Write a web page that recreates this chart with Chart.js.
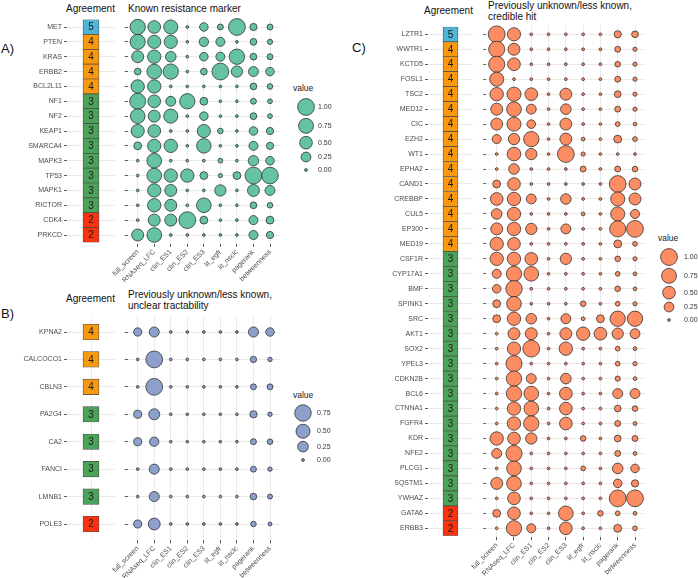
<!DOCTYPE html>
<html><head><meta charset="utf-8">
<script src="https://cdn.jsdelivr.net/npm/chart.js"></script>
<style>
html,body{margin:0;padding:0;background:#fff}
body{width:698px;height:578px;position:relative;overflow:hidden;font-family:"Liberation Sans",Arial,Helvetica,sans-serif}
canvas{position:absolute;left:0;top:0}
.t{position:absolute;white-space:nowrap;color:#111;line-height:1}
</style></head><body>
<div class="t" style="left:1px;top:41.5px;font-size:13px">A)</div>
<div class="t" style="left:66px;top:4px;font-size:10px">Agreement</div>
<div class="t" style="left:128px;top:4px;font-size:10px">Known resistance marker</div>
<div class="t" style="left:293px;top:83.5px;font-size:8.5px;color:#222">value</div>
<div class="t" style="left:1px;top:306.5px;font-size:13px">B)</div>
<div class="t" style="left:66px;top:294px;font-size:10px">Agreement</div>
<div class="t" style="left:128px;top:290px;font-size:10px">Previously unknown/less known,</div>
<div class="t" style="left:128px;top:301px;font-size:10px">unclear tractability</div>
<div class="t" style="left:293px;top:391px;font-size:8.5px;color:#222">value</div>
<div class="t" style="left:352px;top:40.5px;font-size:13px">C)</div>
<div class="t" style="left:424px;top:6px;font-size:10px">Agreement</div>
<div class="t" style="left:488px;top:0.5px;font-size:10px">Previously unknown/less known,</div>
<div class="t" style="left:488px;top:11.5px;font-size:10px">credible hit</div>
<div class="t" style="left:658px;top:234px;font-size:8.5px;color:#222">value</div>
<script>
// ---------------- DATA ----------------
const columns = ['full_screen','RNAseq_LFC','clin_ES1','clin_ES2','clin_ES3','lit_egfr','lit_nsclc','pagerank','betweenness'];

const genesA = ['MET','PTEN','KRAS','ERBB2','BCL2L11','NF1','NF2','KEAP1','SMARCA4','MAPK3','TP53','MAPK1','RICTOR','CDK4','PRKCD'];
const agreeA = [5,4,4,4,4,3,3,3,3,3,3,3,3,2,2];
const valuesA = [
  [0.80,0.50,0.65,0,0.17,0.05,1.00,0.10,0.05],
  [0.78,0.55,0.55,0,0.22,0.20,0,0.08,0.03],
  [0.43,0.57,0.31,0,0.17,0.20,0.80,0.08,0.05],
  [0.08,0.72,0.80,0,0.08,1.00,0.37,0.26,0.17],
  [0.57,0.57,0,0,0,0,0,0.08,0.04],
  [0.88,0.50,0.26,0.80,0.13,0,0,0.05,0.02],
  [0.72,0.43,0.65,0,0.17,0,0,0.08,0.02],
  [0.55,0.50,0,0,0.55,0.04,0,0.17,0.10],
  [0.13,0.57,0.57,0,0.70,0,0,0.20,0.10],
  [0,0.72,0,0,0,0.02,0,0.30,0.17],
  [0,0.72,0.57,0.57,0.13,0.01,0.13,1.00,0.98],
  [0,0.57,0.43,0,0,0.37,0,0.43,0.26],
  [0,0.57,0.43,0,0.72,0,0,0.08,0.04],
  [0,0.43,0.43,1.00,0.13,0,0,0.20,0.13],
  [0.43,0.72,0,0,0,0,0,0.20,0.10]
];
const legendA = [1.00,0.75,0.50,0.25,0.00];

const genesB = ['KPNA2','CALCOCO1','CBLN3','PA2G4','CA2','FANCI','LMNB1','POLE3'];
const agreeB = [4,4,4,3,3,3,3,2];
const valuesB = [
  [0.12,0.21,0,0,0,0,0,0.21,0.13],
  [0,0.78,0,0,0,0,0,0.05,0.01],
  [0,0.78,0,0,0,0,0,0.04,0.04],
  [0.11,0.27,0,0,0,0,0,0.08,0.01],
  [0.11,0.17,0,0,0,0,0,0.04,0.03],
  [0,0.21,0,0,0,0,0,0.04,0.01],
  [0,0.21,0,0,0,0,0,0.06,0.02],
  [0.11,0.33,0,0,0,0,0,0.03,0.005]
];
const legendB = [0.75,0.50,0.25,0.00];

const genesC = ['LZTR1','WWTR1','KCTD5','FOSL1','TSC2','MED12','CIC','EZH2','WT1','EPHA2','CAND1','CREBBP','CUL5','EP300','MED19',
  'CSF1R','CYP17A1','BMF','SPINK1','SRC','AKT1','SOX2','YPEL3','CDKN2B','BCL6','CTNNA1','FGFR4','KDR','NFE2','PLCG1','SQSTM1','YWHAZ','GATA6','ERBB3'];
const agreeC = [5,4,4,4,4,4,4,4,4,4,4,4,4,4,4,3,3,3,3,3,3,3,3,3,3,3,3,3,3,3,3,3,2,2];
const valuesC = [
  [1.00,0.55,0,0,0,0,0,0.10,0.08],
  [0.90,0.43,0,0,0,0,0,0.05,0.01],
  [0.90,0.50,0,0,0,0,0,0.04,0.01],
  [0.65,0,0,0,0,0,0,0.05,0.01],
  [0.57,0.65,0.50,0,0.43,0,0,0.08,0.01],
  [0.43,0.72,0.26,0,0.31,0,0,0.05,0.01],
  [0.43,0.65,0.17,0,0.43,0,0,0.02,0.005],
  [0.20,0.37,0.80,0,0.43,0.005,0,0.13,0.02],
  [0,0.60,0.37,0,1.00,0.01,0,0,0],
  [0,0.31,0,0,0,0.05,0,0.05,0.04],
  [0.13,0.50,0,0,0,0,0,1.00,0.43],
  [0.50,0.57,0.26,0,0.31,0,0,0.65,0.43],
  [0.31,0.57,0,0,0,0.005,0,0.65,0.20],
  [0.43,0.57,0.37,0,0.26,0,0,0.90,1.00],
  [0.57,0.50,0,0,0,0,0,0.13,0.02],
  [0.57,0.57,0.50,0,0.37,0,0,0.04,0.01],
  [0.20,0.80,0.72,0,0,0,0,0.02,0.005],
  [0.17,0.95,0,0,0,0,0,0.04,0.005],
  [0.13,0.72,0,0,0,0.04,0,0.02,0.01],
  [0.13,0.57,0.31,0,0.26,0.005,0.13,0.80,0.80],
  [0,0.43,0.43,0,0.43,0.57,0.50,0.37,0.26],
  [0,0.57,1.00,0,0.57,0,0,0.02,0.005],
  [0,0.90,0,0,0,0,0,0.02,0.01],
  [0,0.80,0.26,0,0.31,0,0,0.03,0.005],
  [0,0.80,0.72,0,0.50,0,0,0.26,0.26],
  [0,0.57,0.72,0,0.50,0,0,0.08,0.04],
  [0,0.57,0.80,0,0.50,0,0,0.05,0.005],
  [0.57,0.50,0.37,0,0,0.04,0,0.08,0.05],
  [0.26,0.90,0,0,0,0,0,0.05,0.005],
  [0,0.72,0,0,0,0.02,0,0.31,0.17],
  [0.43,0.72,0,0,0,0,0,0.17,0.10],
  [0,0.50,0,0,0,0,0,1.00,1.00],
  [0.13,0.50,0,0,0.72,0,0.04,0.02,0.005],
  [0,0.80,0.20,0,0.50,0,0,0.13,0.02]
];
const legendC = [1.00,0.75,0.50,0.25,0.00];

// ---------------- STYLE ----------------
const W = 698, H = 578;
const FONT = '"Liberation Sans", Arial, Helvetica, sans-serif';
const AGREE_COLORS = {5:'#4FB4D5', 4:'#F8990F', 3:'#4DA25A', 2:'#F9330F'};
const GRID = '#ebebeb';
const TXT = '#4d4d4d';

function rad(v, vmax){ return 1.4 * (1 + 5 * Math.sqrt(Math.max(v,0) / vmax)); }

function newCanvas(){
  const c = document.createElement('canvas');
  c.width = W; c.height = H; c.style.width = W+'px'; c.style.height = H+'px';
  document.body.appendChild(c);
  return c.getContext('2d');
}
const base = {responsive:false, animation:false, events:[], devicePixelRatio:1,
  plugins:{legend:{display:false}, tooltip:{enabled:false}, title:{display:false}}};

function bubblePanel(values, nRows, color, vmax, g){
  const stepY = (g.y1 - g.y0) / (nRows - 1);
  const stepX = (g.x1 - g.x0) / (columns.length - 1);
  const t = g.y0 - 0.6*stepY, b = g.y1 + 0.6*stepY;
  const l = g.x0 - 0.6*stepX, r = g.x1 + 0.6*stepX;
  const xH = 60;
  const pts = [];
  values.forEach((row,i)=>row.forEach((v,j)=>pts.push({x:j, y:i, r:rad(v,vmax)})));
  return new Chart(newCanvas(), {
    type:'bubble',
    data:{datasets:[{data:pts, backgroundColor:color, borderColor:'rgba(35,35,35,0.9)', borderWidth:0.8, clip:false}]},
    options:Object.assign({}, base, {
      layout:{padding:{left:l-3, top:t, right:W-r, bottom:H-b-xH}},
      scales:{
        x:{type:'linear', min:-0.6, max:columns.length-0.4,
           afterBuildTicks:s=>{s.ticks = columns.map((c,j)=>({value:j}));},
           afterFit:s=>{s.height = xH;},
           ticks:{autoSkip:false, minRotation:45, maxRotation:45, padding:1, color:TXT, font:{family:FONT,size:7},
                  callback:(v)=>columns[v]},
           grid:{color:GRID, lineWidth:1, drawTicks:true, tickLength:3, tickColor:'#333', tickWidth:0.8},
           border:{display:false}},
        y:{type:'linear', reverse:true, min:-0.6, max:nRows-0.4,
           afterBuildTicks:s=>{s.ticks = Array.from({length:nRows},(_,i)=>({value:i}));},
           afterFit:s=>{s.width = 3;},
           ticks:{display:false},
           grid:{color:GRID, lineWidth:1, drawTicks:true, tickLength:3, tickColor:'#333', tickWidth:0.8},
           border:{display:false}}
      }
    })
  });
}

function agreePanel(genes, agree, g){
  const n = genes.length;
  const step = (g.y1 - g.y0) / (n - 1);
  const t = g.y0 - 0.5*step, b = g.y1 + 0.5*step;
  const labelPlugin = {id:'tileNums', afterDatasetsDraw(chart){
    const meta = chart.getDatasetMeta(0), ctx = chart.ctx;
    ctx.save(); ctx.font = '10px ' + FONT; ctx.fillStyle = '#1a1a1a';
    ctx.textAlign = 'center'; ctx.textBaseline = 'middle';
    meta.data.forEach((bar,i)=>{ const c = bar.getCenterPoint(); ctx.fillText(String(agree[i]), c.x, c.y + 0.5); });
    ctx.restore();
  }};
  const ds = {data:agree.map(()=>[0,1]), backgroundColor:agree.map(a=>AGREE_COLORS[a]),
    borderColor:'#4a4a4a', borderWidth:0.7, borderSkipped:false, barPercentage:1, categoryPercentage:1};
  if (g.thick) ds.barThickness = g.thick;
  return new Chart(newCanvas(), {
    type:'bar',
    data:{labels:genes, datasets:[ds]},
    options:Object.assign({}, base, {
      indexAxis:'y',
      layout:{padding:{left:0, top:t, right:W-g.r, bottom:H-b}},
      scales:{
        x:{type:'linear', min:-1, max:2,
           afterBuildTicks:s=>{s.ticks=[{value:0.5}];},
           afterFit:s=>{s.height = 0;},
           ticks:{display:false}, grid:{color:GRID, drawTicks:false}, border:{display:false}},
        y:{type:'category', offset:true,
           afterFit:s=>{s.width = g.l;},
           ticks:{autoSkip:false, padding:2, color:TXT, font:{family:FONT,size:7}},
           grid:{offset:false, color:GRID, drawTicks:true, tickLength:3, tickColor:'#333', tickWidth:0.8},
           border:{display:false}}
      }
    }),
    plugins:[labelPlugin]
  });
}

function legendPanel(keys, color, vmax, g){
  const d = v => 2*rad(v,vmax);
  const pos = [0];
  for (let i=1;i<keys.length;i++) pos.push(pos[i-1] + (Math.max(d(keys[i-1]),10) + Math.max(d(keys[i]),10))/2 + 3);
  const total = pos[pos.length-1];
  const axW = 40;
  return new Chart(newCanvas(), {
    type:'bubble',
    data:{datasets:[{data:keys.map((v,i)=>({x:0.5, y:pos[i], r:rad(v,vmax)})), backgroundColor:color,
      borderColor:'rgba(35,35,35,0.9)', borderWidth:0.8, clip:false}]},
    options:Object.assign({}, base, {
      layout:{padding:{left:g.cx-5, top:g.y0, right:W-(g.cx+5)-axW, bottom:H-(g.y0+total)}},
      scales:{
        x:{type:'linear', min:0, max:1, display:false},
        y:{type:'linear', position:'right', reverse:true, min:0, max:total,
           afterBuildTicks:s=>{s.ticks = pos.map(p=>({value:p}));},
           afterFit:s=>{s.width = axW;},
           ticks:{padding:g.lx-(g.cx+5), color:'#333', font:{family:FONT,size:7},
                  callback:(v,i)=>keys[i].toFixed(2)},
           grid:{display:false, drawTicks:false}, border:{display:false}}
      }
    })
  });
}

// ---------------- PANELS ----------------
agreePanel(genesA, agreeA, {y0:27, y1:235, l:67, r:115});
bubblePanel(valuesA, genesA.length, '#66C2A5', 1.0, {y0:27, y1:235, x0:137.7, x1:270});
legendPanel(legendA, '#66C2A5', 1.0, {cx:306, y0:107, lx:318});

agreePanel(genesB, agreeB, {y0:332, y1:524, l:67, r:115, thick:15.5});
bubblePanel(valuesB, genesB.length, '#8DA0CB', 0.78, {y0:332, y1:524, x0:137.7, x1:270});
legendPanel(legendB, '#8DA0CB', 0.78, {cx:303, y0:413, lx:317});

agreePanel(genesC, agreeC, {y0:34.3, y1:528.3, l:428, r:473});
bubblePanel(valuesC, genesC.length, '#FC8D62', 1.0, {y0:34.3, y1:528.3, x0:496.7, x1:635});
legendPanel(legendC, '#FC8D62', 1.0, {cx:669, y0:257, lx:684});
</script>
</body></html>
